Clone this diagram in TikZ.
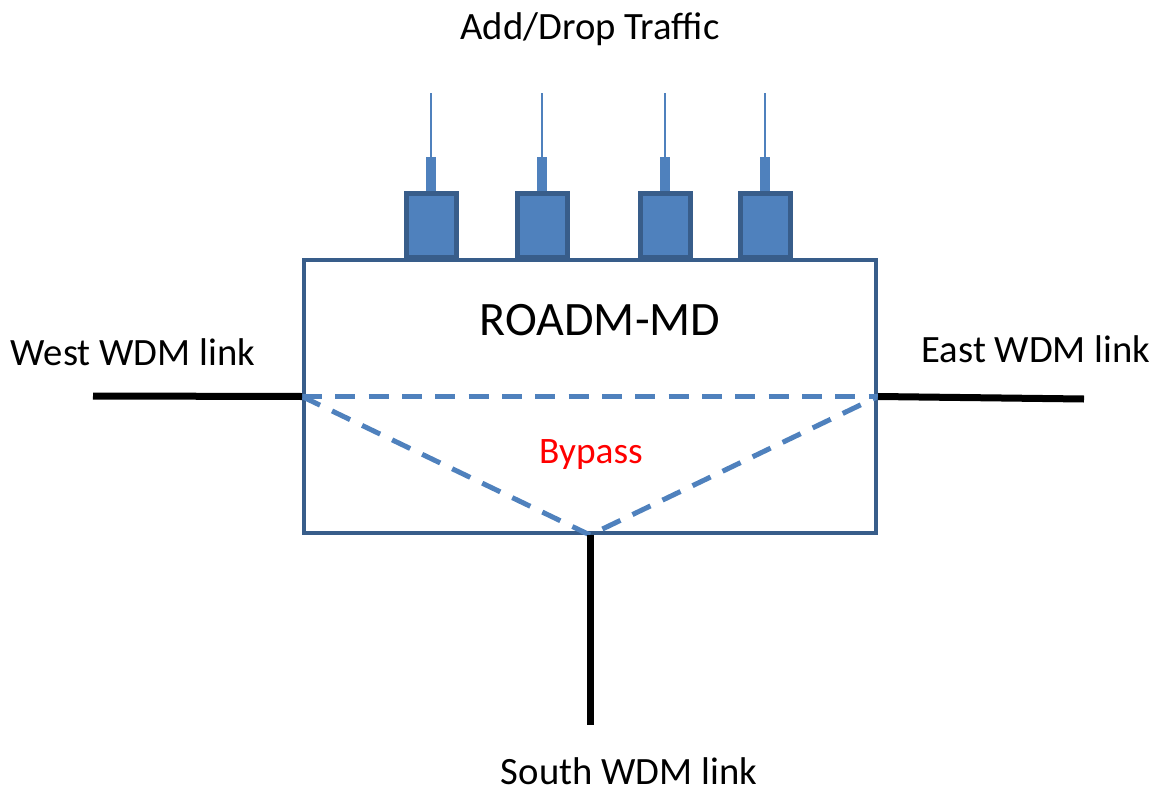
\documentclass[tikz,border=0pt]{standalone}
\usepackage{fontspec}
\setmainfont{Carlito}
\usepackage{tikz}
\usetikzlibrary{positioning}
\definecolor{portblue}{RGB}{79,129,189}
\definecolor{edgeblue}{RGB}{56,93,138}

\begin{document}
\begin{tikzpicture}[
				x=0.75pt, y=-0.75pt,
				label text/.style={font=\fontsize{29}{34}\selectfont, inner sep=0pt, anchor=base},
				roadm box/.style={rectangle, draw=edgeblue, line width=3pt, minimum width=429pt, minimum height=204.75pt, inner sep=0pt},
				port/.style={rectangle, draw=edgeblue, fill=portblue, line width=3.75pt, minimum width=37.5pt, minimum height=48pt, inner sep=0pt, anchor=south},
				plug/.style={rectangle, fill=portblue, minimum width=7.5pt, minimum height=25pt, inner sep=0pt, anchor=south},
				fibre/.style={draw=portblue, line width=1.5pt},
				wdm link/.style={draw=black, line width=5.25pt},
				bypass/.style={draw=portblue, line width=3.75pt, dash pattern=on 15pt off 10pt}
			]
			\useasboundingbox (0,0) rectangle (1160,792);
			\node[roadm box] (roadm) at (590,396.5) {};
			\node[font=\fontsize{36}{42}\selectfont, inner sep=0pt, anchor=base] (name) at (600,335) {ROADM-MD};
			\node[label text, text=red, font=\fontsize{28}{33}\selectfont] (bypasstext) at (591,463) {Bypass};
			% add/drop ports
			\foreach \i/\px in {1/431, 2/542, 3/665, 4/765} {
				\node[port] (port\i) at (\px,260) {};
				\node[plug] (plug\i) at (port\i.north) {};
				\coordinate (top\i) at (\px,93);
				\draw[fibre] (plug\i.north) -- (top\i);
			}
			\node[label text] (adddrop) at (590,40) {Add/Drop Traffic};
			% bypass paths
			\draw[bypass] (roadm.west) -- (roadm.east);
			\draw[bypass] (roadm.west) -- (roadm.south) -- (roadm.east);
			% WDM links
			\coordinate (westend) at (93,396);
			\coordinate (eastend) at (1084,399);
			\coordinate (southend) at (590,725);
			\draw[wdm link] (westend) -- (roadm.west);
			\draw[wdm link] (roadm.east) -- (eastend);
			\draw[wdm link] (roadm.south) -- (southend);
			\node[label text] (west) at (133,365) {West WDM link};
			\node[label text] (east) at (1036,362) {East WDM link};
			\node[label text] (south) at (629,784) {South WDM link};
		\end{tikzpicture}
\end{document}
